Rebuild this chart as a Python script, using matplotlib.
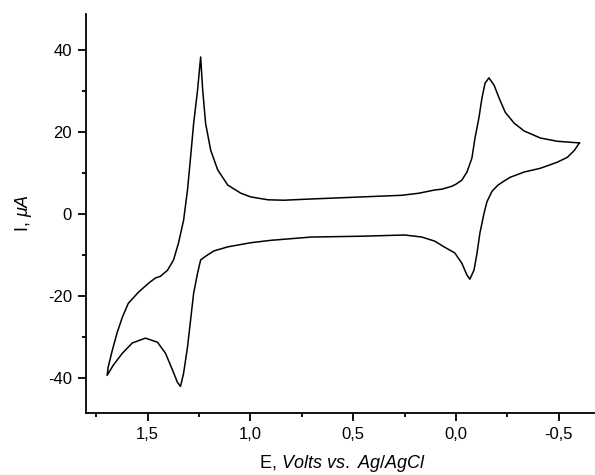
import matplotlib
matplotlib.use("Agg")
import matplotlib.pyplot as plt
from matplotlib.ticker import MultipleLocator, FuncFormatter

# forward scan (right vertex -> left vertex), potential in V vs Ag/AgCl, current in uA
e_forward = [
    -0.601, -0.494, -0.411, -0.333, -0.284, -0.240, -0.210, -0.186, -0.161, -0.142,
    -0.127, -0.112, -0.093, -0.078, -0.054, -0.029, 0.000, 0.020, 0.068, 0.103,
    0.181, 0.264, 0.460, 0.704, 0.836, 0.914, 0.998, 1.046, 1.110, 1.159,
    1.193, 1.218, 1.232, 1.242, 1.257, 1.276, 1.291, 1.306, 1.325, 1.350,
    1.374, 1.403, 1.438, 1.462, 1.496, 1.545, 1.594, 1.623, 1.648, 1.672,
    1.692, 1.697,
]
i_forward = [
    17.4, 17.8, 18.6, 20.3, 22.2, 24.9, 28.4, 31.5, 33.3, 32.0,
    28.4, 23.5, 18.6, 13.7, 10.3, 8.3, 7.3, 6.8, 6.1, 5.9,
    5.1, 4.6, 4.2, 3.7, 3.4, 3.5, 4.2, 5.1, 7.1, 10.8,
    15.6, 22.2, 30.3, 38.4, 30.3, 22.2, 13.9, 5.9, -1.5, -7.1,
    -11.2, -13.7, -15.2, -15.6, -16.9, -19.1, -21.8, -25.2, -28.9, -33.3,
    -37.4, -39.4,
]

# reverse scan (left vertex -> right vertex)
e_reverse = [
    1.697, 1.667, 1.623, 1.575, 1.511, 1.452, 1.413, 1.379, 1.355, 1.340,
    1.325, 1.306, 1.291, 1.276, 1.257, 1.242, 1.218, 1.178, 1.110, 1.000,
    0.900, 0.704, 0.460, 0.249, 0.166, 0.103, 0.054, 0.005, -0.029, -0.054,
    -0.068, -0.088, -0.103, -0.117, -0.137, -0.151, -0.176, -0.205, -0.235, -0.264,
    -0.333, -0.411, -0.494, -0.543, -0.577, -0.601,
]
i_reverse = [
    -39.4, -36.9, -34.0, -31.5, -30.3, -31.3, -34.0, -38.1, -41.1, -42.1,
    -38.9, -32.5, -25.9, -19.3, -14.4, -11.2, -10.3, -9.0, -8.0, -7.0,
    -6.4, -5.6, -5.4, -5.1, -5.6, -6.6, -8.1, -9.5, -12.0, -14.9,
    -15.9, -13.7, -9.5, -4.6, 0.2, 3.0, 5.6, 7.1, 8.1, 9.0,
    10.3, 11.2, 12.7, 13.9, 15.6, 17.4,
]

plt.rcParams['font.family'] = ['Liberation Sans', 'DejaVu Sans']
plt.rcParams['mathtext.fontset'] = 'custom'
plt.rcParams['mathtext.rm'] = 'Liberation Sans'
plt.rcParams['mathtext.it'] = 'Liberation Sans:italic'

fig = plt.figure(figsize=(5.95, 4.75), dpi=100)
ax = fig.add_axes([0.1445, 0.1305, 0.86, 0.84])

ax.plot(e_forward + e_reverse[1:], i_forward + i_reverse[1:],
        color='black', linewidth=1.1, solid_joinstyle='round')

ax.set_xlim(1.8, -0.69)
ax.set_ylim(-48.6, 48.9)

ax.spines['top'].set_visible(False)
ax.spines['right'].set_visible(False)
ax.spines['left'].set_linewidth(1.3)
ax.spines['bottom'].set_linewidth(1.3)

ax.xaxis.set_major_locator(MultipleLocator(0.5))
ax.xaxis.set_minor_locator(MultipleLocator(0.25))
ax.yaxis.set_major_locator(MultipleLocator(20))
ax.yaxis.set_minor_locator(MultipleLocator(10))
ax.xaxis.set_major_formatter(FuncFormatter(lambda v, p: f"{v:.1f}".replace('.', ',').replace('-0,0', '0,0')))
ax.yaxis.set_major_formatter(FuncFormatter(lambda v, p: f"{v:.0f}"))

ax.tick_params(which='major', direction='out', length=6, width=1.3, labelsize=12, pad=4)
ax.tick_params(which='minor', direction='out', length=3, width=1.3)

ax.set_xlabel(r"E, $\mathit{Volts\ vs.\ Ag/AgCl}$", fontsize=13, labelpad=8)
ax.set_ylabel(r"I, $\mathit{μA}$", fontsize=13, labelpad=10)

fig.savefig("out.png", dpi=100)
